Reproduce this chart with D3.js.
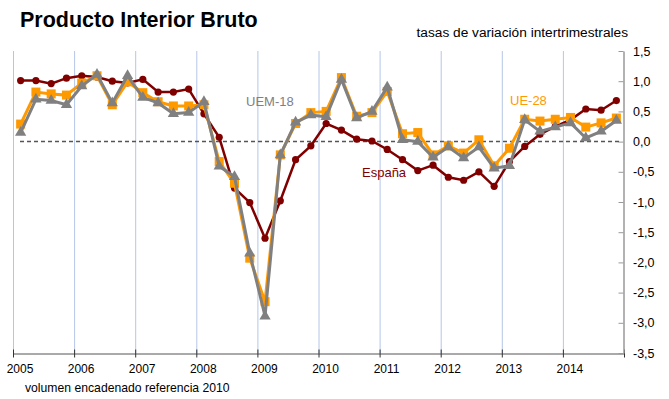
<!DOCTYPE html>
<html><head><meta charset="utf-8">
<script src="https://cdn.jsdelivr.net/npm/d3@7"></script>
<style>body{margin:0;background:#fff}svg{display:block}text{font-family:"Liberation Sans",Arial,sans-serif}</style>
</head><body>
<svg id="c" width="669" height="399"></svg>
<script>
const years = ["2005","2006","2007","2008","2009","2010","2011","2012","2013","2014"];
const yTicks = [1.5,1.0,0.5,0.0,-0.5,-1.0,-1.5,-2.0,-2.5,-3.0,-3.5];
const espana = [1.01,1.01,0.96,1.05, 1.09,1.07,1.00,0.97, 1.03,0.82,0.82,0.87, 0.46,0.07,-0.77,-1.01,
  -1.60,-0.98,-0.30,-0.07, 0.30,0.19,0.04,0.01, -0.13,-0.30,-0.48,-0.39, -0.59,-0.64,-0.50,-0.74,
  -0.33,-0.08,0.12,0.25, 0.36,0.54,0.52,0.68];
const ue28 = [0.29,0.82,0.79,0.77, 0.97,1.09,0.61,0.99, 0.81,0.66,0.59,0.59, 0.61,-0.33,-0.69,-1.93,
  -2.65,-0.22,0.30,0.48, 0.50,1.06,0.42,0.48, 0.83,0.13,0.15,-0.22, -0.07,-0.19,0.03,-0.40,
  -0.11,0.37,0.34,0.37, 0.40,0.24,0.31,0.39];
const uem18 = [0.15,0.70,0.68,0.61, 0.92,1.11,0.64,1.09, 0.73,0.64,0.46,0.48, 0.66,-0.41,-0.58,-1.85,
  -2.89,-0.22,0.32,0.44, 0.41,1.03,0.39,0.50, 0.90,0.03,0.00,-0.26, -0.09,-0.27,-0.09,-0.44,
  -0.40,0.36,0.17,0.24, 0.31,0.06,0.17,0.35];

const svg = d3.select("#c");
const X0 = 13, X1 = 624, Y0 = 51, Y1 = 353;
const nQ = espana.length;
const x = d3.scaleLinear().domain([0, nQ]).range([X0, X1]);
const y = d3.scaleLinear().domain([-3.5, 1.5]).range([Y1, Y0]);
const qx = i => x(i + 0.5);

// titles
svg.append("text").attr("x",20).attr("y",27).attr("font-size",21.5).attr("font-weight","bold").attr("fill","#000").text("Producto Interior Bruto");
svg.append("text").attr("x",628).attr("y",37).attr("text-anchor","end").attr("font-size",13.7).attr("fill","#000").text("tasas de variación intertrimestrales");
svg.append("text").attr("x",25).attr("y",392).attr("font-size",12.2).attr("fill","#000").text("volumen encadenado referencia 2010");

// vertical gridlines
svg.append("g").selectAll("line").data(years).join("line")
  .attr("x1",(d,i)=>x(i*4)+0.5).attr("x2",(d,i)=>x(i*4)+0.5)
  .attr("y1",Y0).attr("y2",Y1).attr("stroke","#b4c6e7").attr("stroke-width",1);

// bottom axis
const xb = d3.axisBottom(x).tickValues(d3.range(0, nQ+1, 4)).tickSize(0).tickFormat("");
const gb = svg.append("g").attr("transform",`translate(0,${Y1+0.5})`).call(xb);
gb.select(".domain").attr("stroke","#555");
gb.selectAll(".tick").append("line").attr("y1",-4).attr("y2",4).attr("stroke","#333");
svg.append("g").selectAll("text").data(years).join("text")
  .attr("x",(d,i)=>x(i*4)+7).attr("y",373).attr("text-anchor","middle")
  .attr("font-size",12).attr("fill","#000").text(d=>d);

// right axis
const yr = d3.axisRight(y).tickValues(yTicks).tickSize(0).tickFormat("");
const gr = svg.append("g").attr("transform",`translate(${X1-0.5},0)`).call(yr);
gr.select(".domain").attr("stroke","#999").attr("stroke-width",1.5);
gr.selectAll(".tick").append("line").attr("x1",-5).attr("x2",0).attr("stroke","#999");
svg.append("g").selectAll("text").data(yTicks).join("text")
  .attr("x",633).attr("y",d=>y(d)+4.5).attr("font-size",12.5).attr("fill","#000")
  .text(d=>d3.format(".1f")(d).replace(".",",").replace("−","-"));

// zero dashed line
svg.append("line").attr("x1",20).attr("x2",X1-2).attr("y1",y(0)).attr("y2",y(0))
  .attr("stroke","#555").attr("stroke-width",1.5).attr("stroke-dasharray","4,3");

const line = d3.line().x((d,i)=>qx(i)).y(d=>y(d));

// España
svg.append("path").datum(espana).attr("d",line).attr("fill","none").attr("stroke","#800000").attr("stroke-width",2.5);
svg.append("g").selectAll("circle").data(espana).join("circle")
  .attr("cx",(d,i)=>qx(i)).attr("cy",d=>y(d)).attr("r",3.6).attr("fill","#800000");

// UE-28
svg.append("path").datum(ue28).attr("d",line).attr("fill","none").attr("stroke","#ff9900").attr("stroke-width",3);
svg.append("g").selectAll("rect").data(ue28).join("rect")
  .attr("x",(d,i)=>qx(i)-4.5).attr("y",d=>y(d)-4.5).attr("width",9).attr("height",9).attr("fill","#ff9900");

// UEM-18
svg.append("path").datum(uem18).attr("d",line).attr("fill","none").attr("stroke","#808080").attr("stroke-width",3);
const tri = d3.symbol().type(d3.symbolTriangle).size(55);
svg.append("g").selectAll("path").data(uem18).join("path")
  .attr("transform",(d,i)=>`translate(${qx(i)},${y(d)})`).attr("d",tri).attr("fill","#808080");

// series labels
svg.append("text").attr("x",246).attr("y",106).attr("font-size",13).attr("fill","#808080").text("UEM-18");
svg.append("text").attr("x",510).attr("y",105).attr("font-size",13).attr("fill","#ff9900").text("UE-28");
svg.append("text").attr("x",362).attr("y",177).attr("font-size",13).attr("fill","#800000").text("España");
</script>
</body></html>
